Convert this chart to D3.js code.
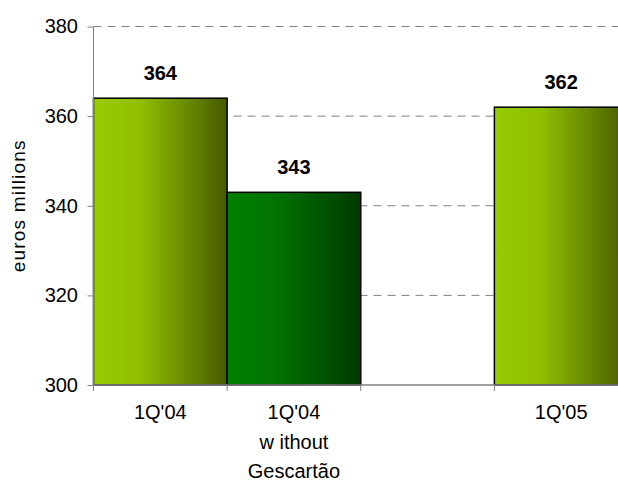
<!DOCTYPE html>
<html><head><meta charset="utf-8">
<script src="https://cdn.jsdelivr.net/npm/d3@7"></script>
<style>body{margin:0;background:#fff}svg{display:block;font-family:"Liberation Sans",Arial,sans-serif}</style>
</head><body>
<script>
const categories = ["1Q'04", "1Q'04|w ithout|Gescartão", "gap", "1Q'05"];
const values = [364, 343, null, 362];
const colorGroup = ["light", "dark", null, "light"];
const yTicks = [300, 320, 340, 360, 380];

const W = 618, H = 481;
const m = {left: 93.5, top: 26.5, right: -10, bottom: 96};
const svg = d3.select("body").append("svg").attr("width", W).attr("height", H);
const defs = svg.append("defs");
const gl = defs.append("linearGradient").attr("id", "light");
gl.append("stop").attr("offset", "0%").attr("stop-color", "#99cc00");
gl.append("stop").attr("offset", "35%").attr("stop-color", "#8fbf00");
gl.append("stop").attr("offset", "100%").attr("stop-color", "#475a00");
const gd = defs.append("linearGradient").attr("id", "dark");
gd.append("stop").attr("offset", "0%").attr("stop-color", "#008000");
gd.append("stop").attr("offset", "35%").attr("stop-color", "#007400");
gd.append("stop").attr("offset", "100%").attr("stop-color", "#003a00");

const x = d3.scaleBand().domain(categories).range([m.left, W - m.right]).padding(0);
const y = d3.scaleLinear().domain([300, 380]).range([H - m.bottom, m.top]);

// gridlines
svg.append("g").selectAll("line").data(yTicks.filter(d => d > 300)).join("line")
  .attr("x1", m.left).attr("x2", W).attr("y1", d => y(d)).attr("y2", d => y(d))
  .attr("stroke", "#808080").attr("stroke-width", 1).attr("stroke-dasharray", "8,6");

// bars
const data = categories.map((c, i) => ({c, v: values[i], g: colorGroup[i]})).filter(d => d.v != null);
svg.append("g").selectAll("rect").data(data).join("rect")
  .attr("x", d => x(d.c)).attr("width", x.bandwidth())
  .attr("y", d => y(d.v)).attr("height", d => y(300) - y(d.v))
  .attr("fill", d => `url(#${d.g})`).attr("stroke", "#000").attr("stroke-width", 1.5);

// value labels
svg.append("g").selectAll("text").data(data).join("text")
  .attr("x", d => x(d.c) + x.bandwidth() / 2).attr("y", d => y(d.v) - 18)
  .attr("text-anchor", "middle").attr("font-size", 20).attr("font-weight", "bold").text(d => d.v);

// y axis
const ya = svg.append("g").attr("transform", `translate(${m.left},0)`)
  .call(d3.axisLeft(y).tickValues(yTicks).tickSize(6).tickPadding(9.5));
ya.select(".domain").attr("stroke", "#808080").attr("d", `M0,${y(380)}V${y(300)}`);
ya.selectAll(".tick line").attr("stroke", "#808080");
ya.selectAll(".tick text").attr("font-size", 20).attr("fill", "#000").attr("font-family", "Liberation Sans, Arial, sans-serif");

// x axis
svg.append("line").attr("x1", m.left).attr("x2", W).attr("y1", y(300)).attr("y2", y(300))
  .attr("stroke", "#808080").attr("stroke-width", 1.5);
const bounds = categories.map(c => x(c));
svg.append("g").selectAll("line").data(bounds).join("line")
  .attr("x1", d => d).attr("x2", d => d).attr("y1", y(300)).attr("y2", y(300) + 6)
  .attr("stroke", "#808080");
const xl = svg.append("g").selectAll("text").data(categories.filter(c => c !== "gap")).join("text")
  .attr("text-anchor", "middle").attr("font-size", 20)
  .attr("transform", d => `translate(${x(d) + x.bandwidth() / 2},${y(300) + 34})`);
xl.selectAll("tspan").data(d => d.split("|")).join("tspan")
  .attr("x", 0).attr("dy", (d, i) => i === 0 ? 0 : 29.5).text(d => d);

// y title
svg.append("text").attr("transform", `translate(25,${(y(300) + y(380)) / 2}) rotate(-90)`)
  .attr("text-anchor", "middle").attr("font-size", 19).attr("letter-spacing", 1.2).text("euros millions");
</script>
</body></html>
